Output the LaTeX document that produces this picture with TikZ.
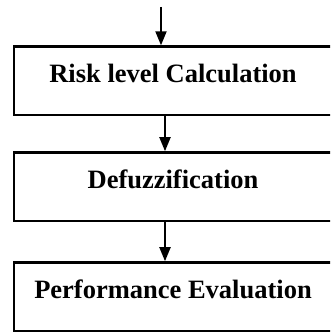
\documentclass[tikz,border=0pt]{standalone}
\usepackage{fontspec}
\setmainfont{Liberation Serif}
\usepackage{tikz}
\usetikzlibrary{arrows.meta,positioning,calc}
\tikzset{
  Sbox/.style={draw, line width=2.5pt, align=center,
               font=\fontsize{26.5}{30}\selectfont\bfseries,
               minimum width=318pt, minimum height=68.5pt, inner sep=0pt,
               text height=18pt, text depth=14pt},
  Sarr/.style={-{Triangle[length=14pt,width=11pt]}, line width=2pt}
}
\begin{document}
\begin{tikzpicture}[x=1pt,y=1pt]
  \useasboundingbox (0,0) rectangle (330,-334);
  \begin{scope}
  \clip (0,0) rectangle (330,-334);
  \node[Sbox] (risk) at (173,-80.8) {Risk level Calculation};
  \node[Sbox] (defuzz) at (173,-186.7) {Defuzzification};
  \node[Sbox] (perf) at (173,-296.7) {Performance Evaluation};
  \end{scope}

  \coordinate (in) at (161,-7);
  \draw[Sarr] (in) -- (in |- risk.north);
  \draw[Sarr] ([xshift=-8pt]risk.south) -- ([xshift=-8pt]defuzz.north);
  \draw[Sarr] ([xshift=-8pt]defuzz.south) -- ([xshift=-8pt]perf.north);
\end{tikzpicture}
\end{document}
